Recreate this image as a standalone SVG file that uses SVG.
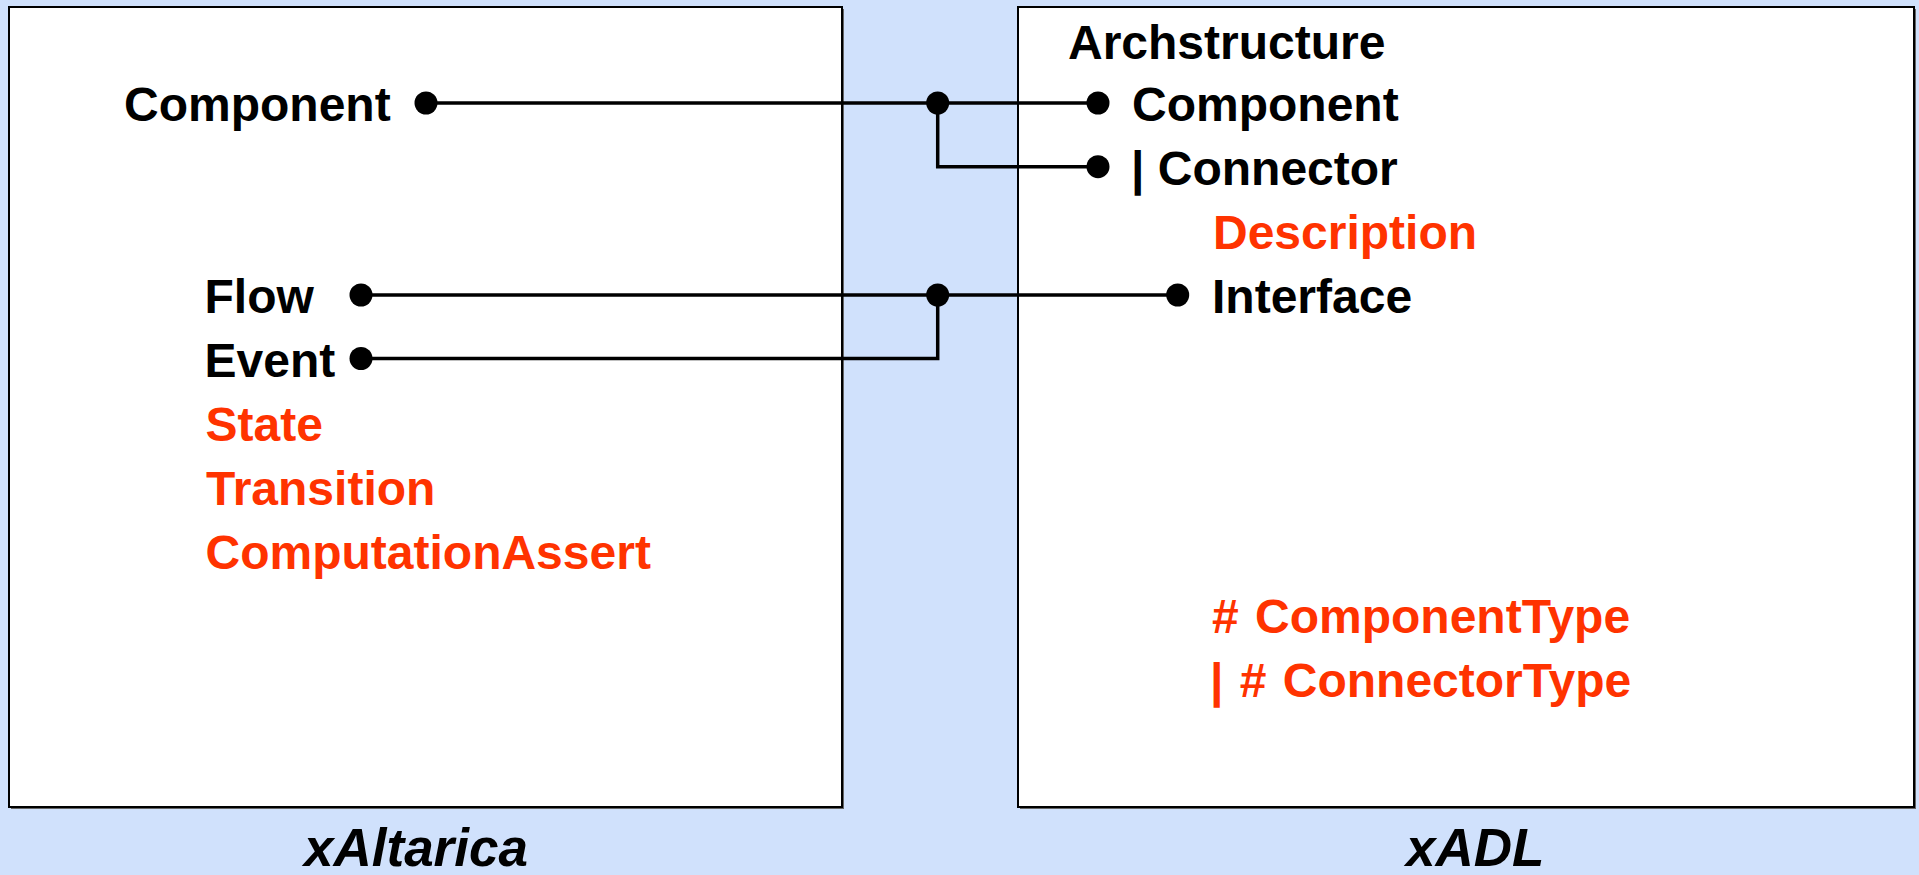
<svg xmlns="http://www.w3.org/2000/svg" width="1919" height="875" viewBox="0 0 1919 875">
<style>
.box{fill:#ffffff;stroke:#000000;stroke-width:2}
.shadow{fill:#666666}
.t{font-family:"Liberation Sans",Arial,sans-serif;font-weight:bold;font-size:48px;fill:#000000}
.r{fill:#ff3300}
.cap{font-family:"Liberation Sans",Arial,sans-serif;font-weight:bold;font-style:italic;font-size:53px;fill:#000000}
.ln{fill:none;stroke:#000000;stroke-width:3.5}
.dot{fill:#000000}
</style>
<rect x="0" y="0" width="1919" height="875" fill="#d0e1fc"/>
<g id="xAltarica">
<rect class="shadow" x="11" y="9" width="833" height="800"/>
<rect class="box" x="9" y="7" width="833" height="800"/>
<text class="t" x="124" y="121">Component</text>
<text class="t" x="204.5" y="313">Flow</text>
<text class="t" x="204.5" y="377">Event</text>
<text class="t r" x="205.5" y="441">State</text>
<text class="t r" x="206" y="505">Transition</text>
<text class="t r" x="205.5" y="569">ComputationAssert</text>
</g>
<g id="xADL">
<rect class="shadow" x="1020" y="9" width="896" height="800"/>
<rect class="box" x="1018" y="7" width="896" height="800"/>
<text class="t" x="1068" y="59">Archstructure</text>
<text class="t" x="1132" y="121">Component</text>
<text class="t" x="1131" y="185">| Connector</text>
<text class="t r" x="1213" y="249">Description</text>
<text class="t" x="1212" y="313">Interface</text>
<text class="t r" x="1212" y="633" style="word-spacing:3px">#  ComponentType</text>
<text class="t r" x="1210" y="697" style="word-spacing:3px">| # ConnectorType</text>
</g>
<g id="label-xAltarica"><text class="cap" x="304" y="866">xAltarica</text></g>
<g id="label-xADL"><text class="cap" x="1406" y="866">xADL</text></g>
<g id="connectors">
<path class="ln" d="M426 103 H1098"/>
<path class="ln" d="M937.7 103 V166.7 H1098"/>
<path class="ln" d="M361 295 H1177.7"/>
<path class="ln" d="M937.7 295 V358.5 H361"/>
<circle class="dot" cx="426" cy="103" r="11.5"/>
<circle class="dot" cx="937.7" cy="103" r="11.5"/>
<circle class="dot" cx="1098" cy="103" r="11.5"/>
<circle class="dot" cx="1098" cy="166.7" r="11.5"/>
<circle class="dot" cx="361" cy="295" r="11.5"/>
<circle class="dot" cx="361" cy="358.5" r="11.5"/>
<circle class="dot" cx="937.7" cy="295" r="11.5"/>
<circle class="dot" cx="1177.7" cy="295" r="11.5"/>
</g>
</svg>
